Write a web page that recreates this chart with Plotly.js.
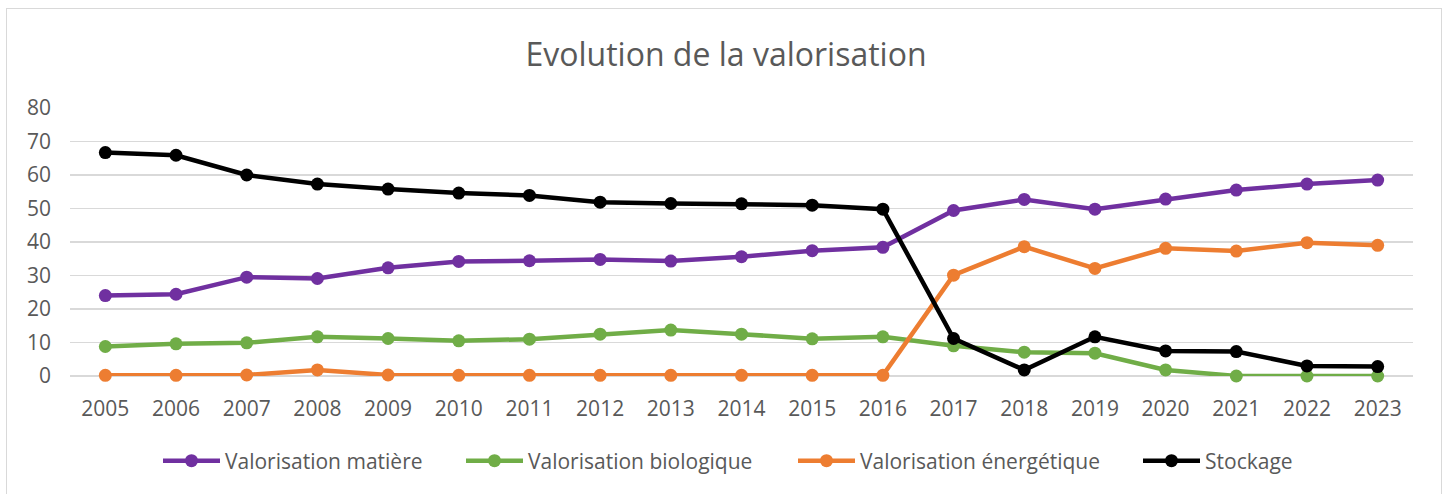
<!DOCTYPE html>
<html>
<head>
<meta charset="utf-8">
<script src="https://cdn.plot.ly/plotly-3.0.1.min.js"></script>
<style>
html,body{margin:0;padding:0;background:#fff;}
#frame{position:absolute;left:6px;top:8px;width:1436px;height:490px;border:1.5px solid #d9d9d9;box-sizing:border-box;}
#chart{position:absolute;left:0;top:0;width:1452px;height:494px;}
</style>
</head>
<body>
<div id="frame"></div>
<div id="chart"></div>
<script>
const years = ["2005","2006","2007","2008","2009","2010","2011","2012","2013","2014","2015","2016","2017","2018","2019","2020","2021","2022","2023"];
const matiere = [24.0,24.4,29.5,29.1,32.3,34.2,34.4,34.8,34.3,35.6,37.4,38.4,49.4,52.7,49.8,52.8,55.5,57.3,58.5];
const biologique = [8.8,9.6,9.9,11.7,11.2,10.5,11.0,12.5,13.7,12.5,11.1,11.7,9.0,7.1,6.8,1.8,0,0,0];
const energetique = [0.2,0.2,0.3,1.8,0.3,0.2,0.2,0.2,0.2,0.2,0.2,0.2,30.1,38.6,32.1,38.1,37.3,39.8,39.0];
const stockage = [66.7,65.9,60.0,57.3,55.8,54.6,53.9,51.9,51.5,51.4,51.0,49.8,11.2,1.8,11.7,7.5,7.3,3.0,2.8];
const names = ["Valorisation matière","Valorisation biologique","Valorisation énergétique","Stockage"];
const colors = ["#7030a0","#70ad47","#ed7d31","#000000"];
const series = [matiere, biologique, energetique, stockage];
const legendIds = ["legend","legend2","legend3","legend4"];

const traces = series.map((s,i)=>({
  x: years, y: s, name: names[i], type: 'scatter', mode: 'lines+markers',
  line: {color: colors[i], width: 4.5},
  marker: {color: colors[i], size: 13},
  cliponaxis: false,
  legend: legendIds[i]
}));

const font = "'Open Sans', Lato, sans-serif";
const plotL = 70, plotR = 1413;
const legendStarts = [158, 461, 793, 1138];
const layout = {
  width: 1452, height: 494,
  margin: {l: plotL, r: 1452 - plotR, t: 108, b: 118},
  paper_bgcolor: 'rgba(0,0,0,0)', plot_bgcolor: 'rgba(0,0,0,0)',
  font: {family: font, color: '#595959', size: 21},
  title: {text: 'Evolution de la valorisation', x: 0.5, xanchor: 'center', y: 0.89, yanchor: 'middle',
          font: {family: font, size: 32, color: '#595959'}},
  xaxis: {type: 'category', range: [-0.5, 18.5], showgrid: false, zeroline: false, showline: false,
          ticks: '', ticklabelstandoff: 18, tickfont: {size: 21, color: '#595959'}, fixedrange: true},
  yaxis: {range: [0, 80], dtick: 10, showgrid: true, gridcolor: '#d9d9d9', gridwidth: 1.5,
          zeroline: true, zerolinecolor: '#d9d9d9', zerolinewidth: 1.5, showline: false,
          ticks: '', ticklabelstandoff: 18, tickfont: {size: 21, color: '#595959'}},
  showlegend: true
};
legendIds.forEach((id,i)=>{
  layout[id] = {orientation: 'h', x: (legendStarts[i] - plotL)/(plotR - plotL), xanchor: 'left',
    y: (376 - 461)/268, yanchor: 'middle', font: {size: 21, color: '#595959', family: font},
    itemwidth: 57, bgcolor: 'rgba(0,0,0,0)'};
});
Plotly.newPlot('chart', traces, layout, {displayModeBar: false, staticPlot: true});
</script>
</body>
</html>
